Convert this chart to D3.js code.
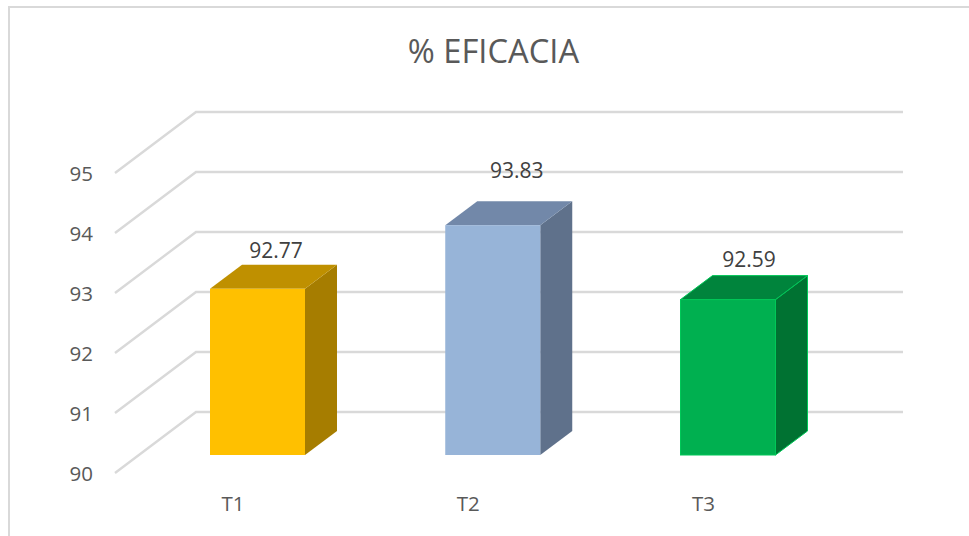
<!DOCTYPE html>
<html><head><meta charset="utf-8">
<script src="https://cdnjs.cloudflare.com/ajax/libs/d3/7.8.5/d3.min.js"></script>
<style>html,body{margin:0;padding:0;background:#fff}svg{display:block}text{font-family:"Open Sans",sans-serif}</style>
</head><body><svg id="c" width="969" height="536"></svg>
<script>
const categories = ["T1","T2","T3"];
const values = [92.77,93.83,92.59];
const labels = ["92.77","93.83","92.59"];
const yTicks = [90,91,92,93,94,95];
const fronts = ["#FFC000","#97B4D8","#00B050"];
const tops = ["#BF9000","#7288A9","#00843C"];
const sides = ["#A67D00","#5F718B","#007232"];
const strokes = ["none","none","#00C858"];

const svg = d3.select("#c");
svg.append("path").attr("d","M9,536V7H969").attr("fill","none").attr("stroke","#d9d9d9").attr("stroke-width",2);

const y = d3.scaleLinear().domain([90,95]).range([455,155]);
const yFront = d3.scaleLinear().domain([90,95]).range([473,173]);
const x = d3.scalePoint().domain(categories).range([257.5,728]);
const barW = 95, dx = 32, dy = 24;
const wallDx = 81, wallDy = 61, gridRight = 903;

// gridlines
svg.append("g").selectAll("path").data(yTicks).join("path")
  .attr("d",d=>{const f=yFront(d);return `M115,${f}L${115+wallDx},${f-wallDy}H${gridRight}`;})
  .attr("fill","none").attr("stroke","#d9d9d9").attr("stroke-width",2.4);

// y labels
svg.append("g").selectAll("text").data(yTicks).join("text")
  .attr("x",93).attr("y",d=>yFront(d)+7.5).attr("text-anchor","end")
  .attr("font-size",20.5).attr("fill","#595959").text(d=>d);

// bars
const bars = svg.append("g").selectAll("g").data(categories).join("g");
bars.each(function(c,i){
  const g=d3.select(this), l=x(c)-barW/2, r=l+barW, t=y(values[i]), b=y(90);
  const st = strokes[i];
  g.append("path").attr("d",`M${r},${t}L${r+dx},${t-dy}V${b-dy}L${r},${b}Z`).attr("fill",sides[i]).attr("stroke",st);
  g.append("path").attr("d",`M${l},${t}L${l+dx},${t-dy}H${r+dx}L${r},${t}Z`).attr("fill",tops[i]).attr("stroke",st);
  g.append("rect").attr("x",l).attr("y",t).attr("width",barW).attr("height",b-t).attr("fill",fronts[i]).attr("stroke",st);
});

// value labels
const labelOffsetX=[18.5,24,21], labelOffsetY=[31,47,33];
svg.append("g").selectAll("text").data(categories).join("text")
  .attr("x",(c,i)=>x(c)+labelOffsetX[i]).attr("y",(c,i)=>y(values[i])-labelOffsetY[i])
  .attr("text-anchor","middle").attr("font-size",21).attr("fill","#404040").text((c,i)=>labels[i]);

// category labels
svg.append("g").selectAll("text").data(categories).join("text")
  .attr("x",c=>x(c)-24.5).attr("y",511).attr("text-anchor","middle")
  .attr("font-size",20.5).attr("fill","#595959").text(c=>c);

svg.append("text").attr("x",493.5).attr("y",62.5).attr("text-anchor","middle")
  .attr("font-size",32.7).attr("fill","#595959").text("% EFICACIA");
</script></body></html>
